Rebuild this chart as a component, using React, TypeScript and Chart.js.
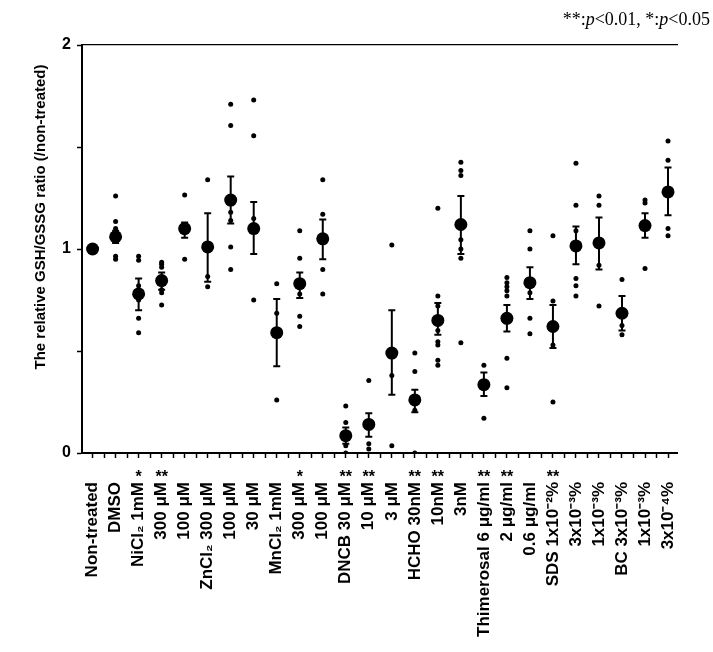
import React, { useEffect, useRef } from 'react';
import { Chart, registerables } from 'chart.js';

Chart.register(...registerables);

const categories = [
  'Non-treated', 'DMSO', 'NiCl₂ 1mM', '300 μM', '100 μM', 'ZnCl₂ 300 μM', '100 μM', '30 μM',
  'MnCl₂ 1mM', '300 μM', '100 μM', 'DNCB 30 μM', '10 μM', '3 μM', 'HCHO 30nM', '10nM', '3nM',
  'Thimerosal 6 μg/ml', '2 μg/ml', '0.6 μg/ml', 'SDS 1x10⁻²%', '3x10⁻³%', '1x10⁻³%',
  'BC 3x10⁻³%', '1x10⁻³%', '3x10⁻⁴%',
];

const means = [
  1.0, 1.06, 0.78, 0.845, 1.10, 1.01, 1.24, 1.10, 0.59, 0.83, 1.05, 0.085, 0.14,
  0.49, 0.26, 0.65, 1.12, 0.335, 0.66, 0.835, 0.62, 1.015, 1.03, 0.685, 1.115, 1.28,
];

const errHigh = [
  null, 1.09, 0.855, 0.885, 1.13, 1.175, 1.355, 1.23, 0.755, 0.885, 1.145, 0.125, 0.195,
  0.70, 0.31, 0.735, 1.26, 0.395, 0.725, 0.91, 0.725, 1.11, 1.155, 0.77, 1.175, 1.40,
];

const errLow = [
  null, 1.03, 0.70, 0.80, 1.055, 0.84, 1.125, 0.975, 0.425, 0.76, 0.95, 0.045, 0.08,
  0.285, 0.20, 0.58, 0.975, 0.28, 0.595, 0.755, 0.515, 0.925, 0.90, 0.60, 1.055, 1.165,
];

const replicates = [
  [1.0],
  [1.26, 1.135, 1.10, 1.08, 1.04, 0.965, 0.95],
  [0.965, 0.945, 0.82, 0.75, 0.66, 0.59],
  [0.935, 0.925, 0.91, 0.80, 0.785, 0.725],
  [1.265, 1.12, 1.08, 0.95],
  [1.34, 0.865, 0.815],
  [1.71, 1.605, 1.18, 1.14, 1.01, 0.90],
  [1.73, 1.555, 1.15, 0.75],
  [0.83, 0.685, 0.26],
  [1.09, 0.955, 0.78, 0.67, 0.62],
  [1.34, 1.17, 0.90, 0.78],
  [0.23, 0.15, 0.035, 0.0],
  [0.355, 0.045, 0.02],
  [1.02, 0.38, 0.035],
  [0.49, 0.40, 0.21, 0.0],
  [1.20, 0.77, 0.72, 0.60, 0.545, 0.53, 0.455, 0.43],
  [1.425, 1.385, 1.36, 1.045, 1.0, 0.955, 0.54],
  [0.43, 0.17],
  [0.86, 0.835, 0.815, 0.795, 0.77, 0.465, 0.32],
  [1.09, 1.0, 0.785, 0.66, 0.585],
  [1.065, 0.745, 0.53, 0.25],
  [1.42, 1.215, 1.09, 0.855, 0.82, 0.77],
  [1.26, 1.215, 0.92, 0.72],
  [0.85, 0.625, 0.58],
  [1.24, 1.225, 0.905],
  [1.53, 1.435, 1.10, 1.065],
];

const significance = [
  '', '', '*', '**', '', '', '', '', '', '*', '', '**', '**', '', '**', '**', '',
  '**', '**', '', '**', '', '', '', '', '',
];

const yTickValues = [0, 0.5, 1, 1.5, 2];
const yTitle = 'The relative GSH/GSSG ratio (/non-treated)';
const noteParts: [string, boolean][] = [
  ['**:', false], ['p', true], ['<0.01, *:', false], ['p', true], ['<0.05', false],
];

const SANS = '"Liberation Sans", Arial, Helvetica, sans-serif';
const SERIF = '"Liberation Serif", "Times New Roman", serif';

export default function App() {
  const ref = useRef<HTMLCanvasElement | null>(null);

  useEffect(() => {
    const canvas = ref.current;
    if (!canvas) return;

    const pointData = replicates.flatMap((vals, i) => vals.map((v) => ({ x: i, y: v })));
    const meanData = means.map((m, i) => ({ x: i, y: m }));
    const barData: { x: number; y: number | null }[] = [];
    const capData: { x: number; y: number }[] = [];
    means.forEach((_, i) => {
      const hi = errHigh[i];
      const lo = errLow[i];
      if (hi == null || lo == null) return;
      barData.push({ x: i, y: lo }, { x: i, y: hi }, { x: i, y: null });
      capData.push({ x: i, y: lo }, { x: i, y: hi });
    });

    const overlay = {
      id: 'overlay',
      afterDraw(chart: any) {
        const ctx = chart.ctx as CanvasRenderingContext2D;
        const xs = chart.scales.x;
        ctx.save();
        ctx.fillStyle = '#000';
        // significance marks
        ctx.font = `bold 16px ${SANS}`;
        ctx.textAlign = 'center';
        ctx.textBaseline = 'alphabetic';
        significance.forEach((s, i) => {
          if (s) ctx.fillText(s, xs.getPixelForValue(i), 482);
        });
        // y axis title
        ctx.save();
        ctx.translate(41, 217);
        ctx.rotate(-Math.PI / 2);
        ctx.font = `bold 15px ${SANS}`;
        ctx.textAlign = 'center';
        ctx.textBaseline = 'middle';
        ctx.fillText(yTitle, 0, 0);
        ctx.restore();
        // p-value note
        ctx.textAlign = 'left';
        const fontFor = (it: boolean) => `${it ? 'italic ' : ''}18px ${SERIF}`;
        let total = 0;
        noteParts.forEach(([t, it]) => {
          ctx.font = fontFor(it);
          total += ctx.measureText(t).width;
        });
        let x = 710 - total;
        noteParts.forEach(([t, it]) => {
          ctx.font = fontFor(it);
          ctx.fillText(t, x, 25);
          x += ctx.measureText(t).width;
        });
        ctx.restore();
      },
    };

    const chart = new Chart(canvas, {
      type: 'scatter',
      data: {
        datasets: [
          {
            type: 'line',
            data: barData as any,
            borderColor: '#000',
            borderWidth: 2,
            pointRadius: 0,
            spanGaps: false,
            showLine: true,
          } as any,
          {
            data: capData,
            pointStyle: 'line',
            pointRadius: 3.5,
            borderWidth: 2,
            borderColor: '#000',
          } as any,
          {
            data: meanData,
            pointStyle: 'circle',
            pointRadius: 6.5,
            backgroundColor: '#000',
            borderWidth: 0,
          },
          {
            data: pointData,
            pointStyle: 'circle',
            pointRadius: 2.5,
            backgroundColor: '#000',
            borderWidth: 0,
          },
        ],
      },
      options: {
        animation: false,
        responsive: false,
        devicePixelRatio: 1,
        layout: { padding: { top: 45, right: 1, left: 0, bottom: 0 } },
        plugins: {
          legend: { display: false },
          tooltip: { enabled: false },
          title: { display: false },
        },
        scales: {
          x: {
            type: 'linear',
            position: 'bottom',
            min: -0.46,
            max: 25.42,
            afterBuildTicks: (axis: any) => {
              const t = [];
              for (let i = 0; i <= 50; i++) t.push({ value: i / 2 });
              axis.ticks = t;
            },
            afterFit: (s: any) => {
              s.height = 199;
            },
            ticks: {
              autoSkip: false,
              minRotation: 90,
              maxRotation: 90,
              padding: 24,
              color: '#000',
              font: { family: SANS, size: 17, weight: 'bold' },
              callback: (v: any) => (Number.isInteger(v) ? categories[v] : ''),
            },
            grid: {
              drawOnChartArea: false,
              drawTicks: true,
              tickLength: 5,
              tickColor: '#000',
              tickWidth: 1.5,
            },
            border: { color: '#000', width: 2 },
          },
          x2: {
            type: 'linear',
            position: 'top',
            min: -0.46,
            max: 25.42,
            afterFit: (s: any) => {
              s.height = 0;
            },
            ticks: { display: false },
            grid: { drawOnChartArea: false, drawTicks: false },
            border: { color: '#000', width: 1.2 },
          },
          y: {
            type: 'linear',
            min: 0,
            max: 2,
            afterBuildTicks: (axis: any) => {
              axis.ticks = yTickValues.map((v) => ({ value: v }));
            },
            afterFit: (s: any) => {
              s.width = 82;
            },
            ticks: {
              padding: 6,
              color: '#000',
              font: { family: SANS, size: 16, weight: 'bold' },
              callback: (v: any) => (Number.isInteger(v) ? String(v) : ''),
            },
            grid: {
              drawOnChartArea: false,
              drawTicks: true,
              tickLength: 5,
              tickColor: '#000',
              tickWidth: 1.5,
            },
            border: { color: '#000', width: 2 },
          },
        },
      } as any,
      plugins: [overlay],
    });

    return () => {
      chart.destroy();
    };
  }, []);

  return (
    <div style={{ position: 'fixed', left: 0, top: 0, width: 713, height: 652, background: '#fff' }}>
      <canvas ref={ref} width={713} height={652} style={{ display: 'block', width: 713, height: 652 }} />
    </div>
  );
}
